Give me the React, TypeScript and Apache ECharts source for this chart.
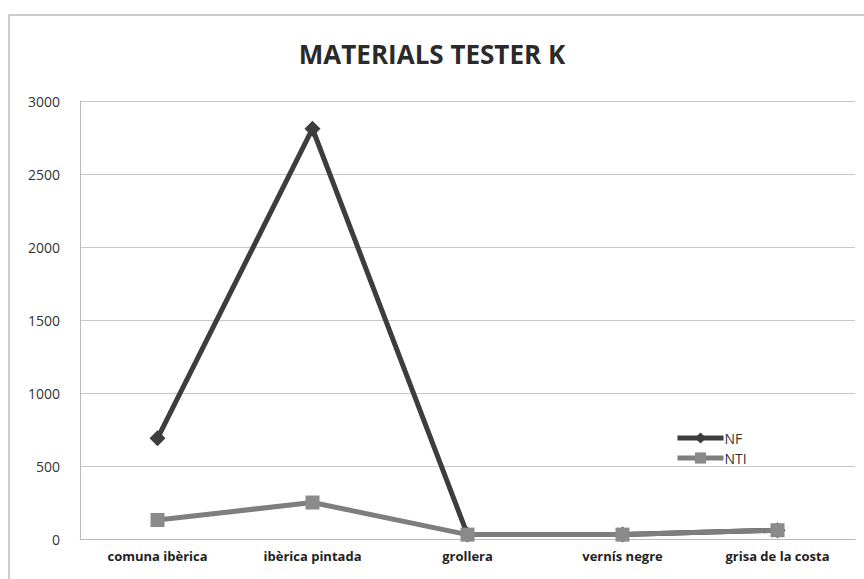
import React, { useEffect, useRef } from "react";
import * as echarts from "echarts";

const categories = ["comuna ibèrica", "ibèrica pintada", "grollera", "vernís negre", "grisa de la costa"];
const nfValues = [690, 2810, 30, 30, 60];
const ntiValues = [130, 250, 30, 30, 60];
const yTicks = [0, 500, 1000, 1500, 2000, 2500, 3000];

export default function App() {
  const ref = useRef<HTMLDivElement>(null);
  useEffect(() => {
    const chart = echarts.init(ref.current!, null, { renderer: "svg" });
    chart.setOption({
      animation: false,
      backgroundColor: "#ffffff",
      title: {
        text: "MATERIALS TESTER K",
        left: "center",
        top: 36,
        textStyle: { fontFamily: "Open Sans", fontWeight: "bold", fontSize: 26, color: "#2a2a2a" },
      },
      graphic: [
        {
          type: "rect",
          shape: { x: 9, y: 15, width: 860, height: 570 },
          style: { fill: "none", stroke: "#9a9a9a", lineWidth: 1 },
        },
      ],
      legend: {
        orient: "vertical",
        left: 670,
        top: 426,
        itemGap: 6,
        itemWidth: 46,
        itemHeight: 14,
        lineStyle: { width: 5 },
        textStyle: { fontFamily: "Open Sans", fontSize: 14, color: "#333", padding: [0, 0, 0, -4] },
        data: ["NF", "NTI"],
      },
      grid: { left: 80, right: 9, top: 101, bottom: 40 },
      xAxis: {
        type: "category",
        data: categories,
        boundaryGap: true,
        axisLine: { lineStyle: { color: "#bbbbbb" } },
        axisTick: { show: false },
        axisLabel: { fontFamily: "Open Sans", fontWeight: "bold", fontSize: 13, color: "#222", margin: 10 },
      },
      yAxis: {
        type: "value",
        min: yTicks[0],
        max: yTicks[yTicks.length - 1],
        interval: 500,
        axisLine: { show: true, lineStyle: { color: "#bbbbbb" } },
        axisLabel: {
          fontFamily: "Open Sans",
          fontSize: 14,
          color: "#333",
          margin: 20,
          formatter: (v: number) => String(v),
        },
        splitLine: { lineStyle: { color: "#c8c8c8" } },
      },
      series: [
        {
          name: "NF",
          type: "line",
          data: nfValues,
          symbol: "diamond",
          symbolSize: 16,
          itemStyle: { color: "#3d3d3d" },
          lineStyle: { color: "#3d3d3d", width: 5 },
          z: 2,
        },
        {
          name: "NTI",
          type: "line",
          data: ntiValues,
          symbol: "rect",
          symbolSize: 14,
          itemStyle: { color: "#8a8a8a" },
          lineStyle: { color: "#7e7e7e", width: 5 },
          z: 3,
        },
      ],
    });
    return () => chart.dispose();
  }, []);
  return <div ref={ref} style={{ position: "fixed", left: 0, top: 0, width: 864, height: 579 }} />;
}
